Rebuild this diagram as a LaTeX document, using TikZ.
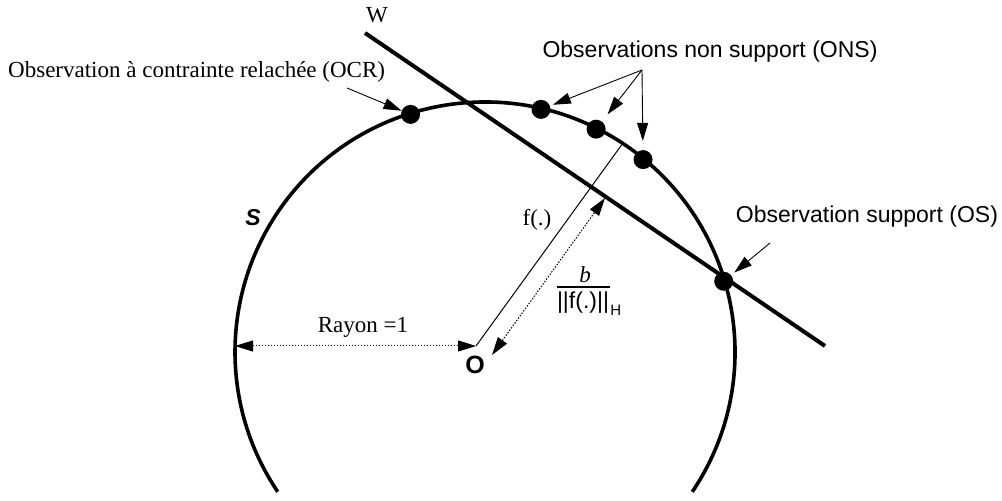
\documentclass[tikz,border=0pt]{standalone}
\usepackage{fontspec}
\setmainfont{Liberation Serif}
\setsansfont{Liberation Sans}
\usepackage{tikz}
\usetikzlibrary{arrows.meta,calc}

\begin{document}
\begin{tikzpicture}[x=1pt,y=1pt,
    every node/.style={inner sep=0pt},
    serif/.style={font=\fontsize{23}{26}\selectfont},
    sans/.style={font=\fontsize{23}{26}\selectfont\sffamily},
    obs/.style={circle,fill=black,minimum size=19pt},
    tip/.style={-{Triangle[length=18pt,width=11pt]},line width=0.9pt},
    dimline/.style={{Triangle[length=18pt,width=11pt]}-{Triangle[length=18pt,width=11pt]},
        line width=1pt,dash pattern=on 1.5pt off 1.5pt}]
    \useasboundingbox (0,0) rectangle (1002,501);
    \coordinate (C) at (485,149);
    \coordinate (O) at (476,155);
    % sphere and hyperplane
    \draw[line width=3.6pt] ($(C)+(-34:250)$) arc[start angle=-34,end angle=214,radius=250];
    \coordinate (Wa) at (365,468);
    \coordinate (Wb) at (825,155);
    \draw[line width=4pt] (Wa) -- (Wb);
    \coordinate (fend) at (623,358);
    \draw[line width=1pt] (O) -- (fend);
    % observations
    \foreach \a/\n in {107.4/ocr,77/onsa,63.5/onsb,50.6/onsc,16.5/os}
        \node[obs] (\n) at ($(C)+(\a:249)$) {};
    % labels
    \node[serif] (wlab) at (377,486) {W};
    \node[serif,anchor=west] (ocrlab) at (8,429) {Observation à contrainte relachée (OCR)};
    \node[sans] (onslab) at (710,449) {Observations non support (ONS)};
    \node[sans] (oslab) at (867,284) {Observation support (OS)};
    \node[font=\fontsize{23}{26}\selectfont\sffamily\bfseries\itshape] (slab) at (253,283) {S};
    \node[font=\fontsize{25}{28}\selectfont\sffamily\bfseries] (olab) at (475,136) {O};
    \node[serif] (flab) at (537,281) {f(.)};
    \node[serif] (rlab) at (363,174) {Rayon =1};
    \node[serif,font=\fontsize{23}{26}\selectfont\itshape] (fracnum) at (585,226) {b};
    \node[sans] (fracden) at (583,198) {||f(.)||};
    \node[font=\fontsize{15}{18}\selectfont\sffamily,anchor=west] (fracsub) at (fracden.east) [yshift=-7pt,xshift=1pt] {H};
    \draw[line width=1.8pt] (fracden.north west) ++(0,5) -- ++(53,0);
    % pointers
    \coordinate (ocrfrom) at (347,413);
    \draw[tip] (ocrfrom) -- (ocr);
    \coordinate (onsfrom) at (642,431);
    \draw[tip,shorten >=3pt] (onsfrom) -- (onsa);
    \draw[tip,shorten >=9pt] (onsfrom) -- (onsb);
    \draw[tip,shorten >=9pt] (onsfrom) -- (onsc);
    \coordinate (osfrom) at (770,258);
    \draw[tip,shorten >=4pt] (osfrom) -- (os);
    % dimensions
    \coordinate (rleft) at (235,155);
    \draw[dimline] (rleft) -- (O);
    \coordinate (ba) at (492,146);
    \coordinate (bb) at (605,303);
    \draw[dimline] (ba) -- (bb);
\end{tikzpicture}
\end{document}
